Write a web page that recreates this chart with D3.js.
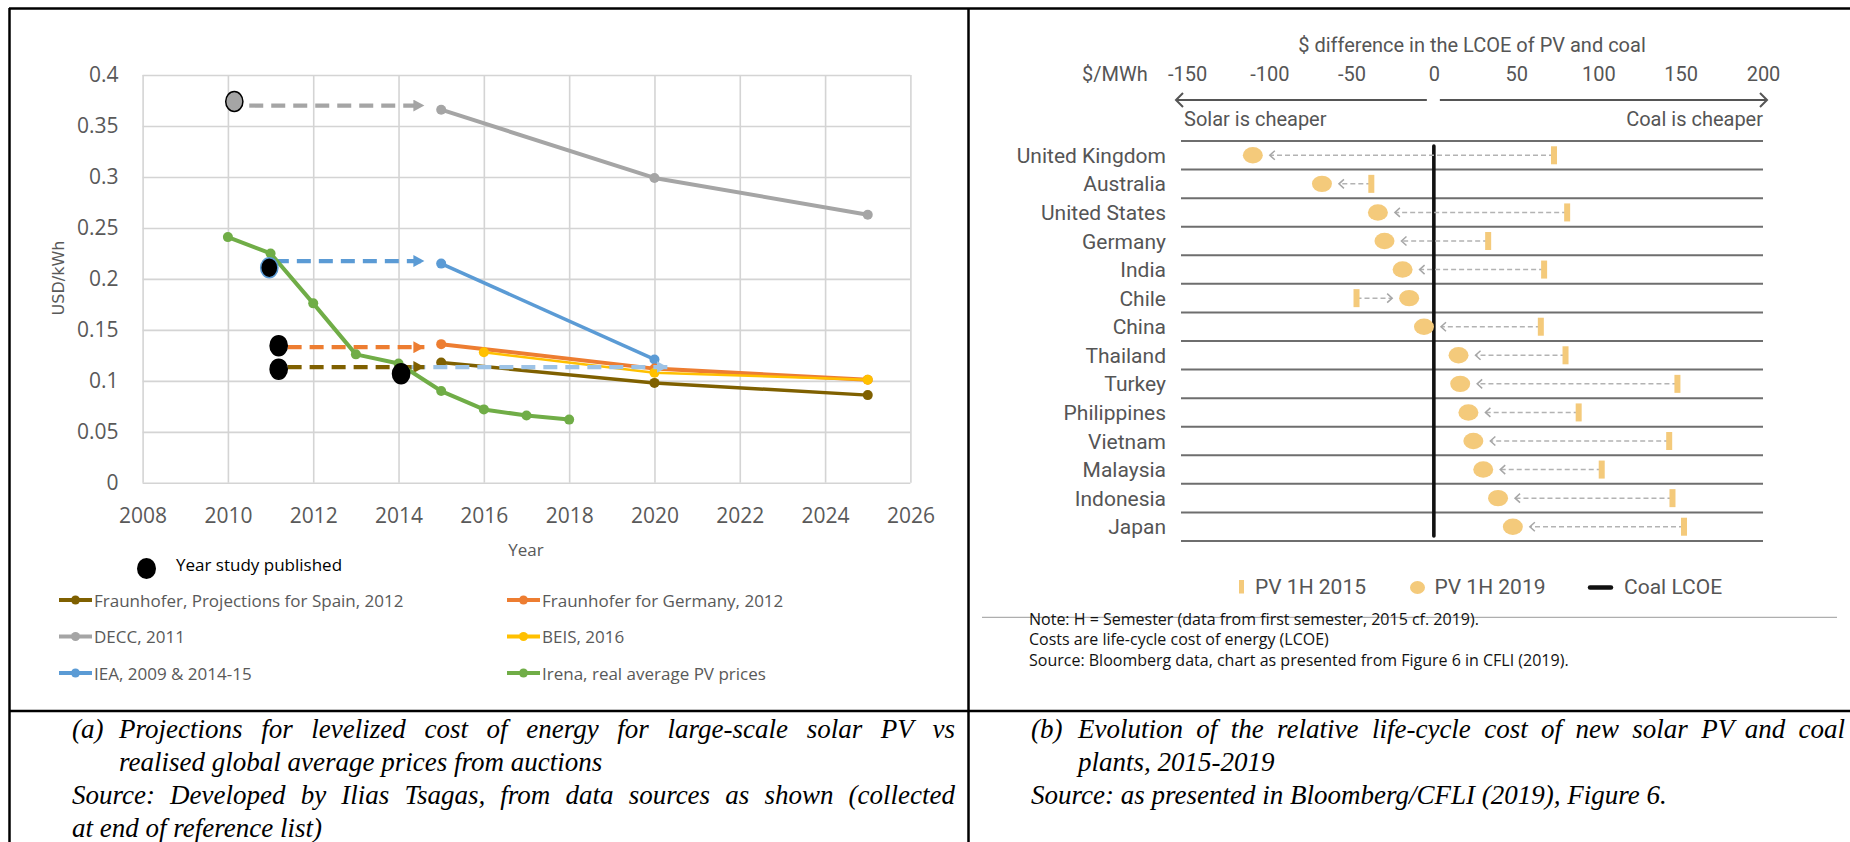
<!DOCTYPE html>
<html>
<head>
<meta charset="utf-8">
<script src="https://cdn.jsdelivr.net/npm/d3@7"></script>
<style>
  body { margin: 0; background: #fff; }
</style>
</head>
<body>
<svg id="fig" width="1850" height="842"></svg>
<script>
// ---------- panel (a): LCOE projections vs realised prices ----------
var irenaYears  = [2010, 2011, 2012, 2013, 2014, 2015, 2016, 2017, 2018];
var irenaPrices = [0.241, 0.225, 0.176, 0.126, 0.117, 0.090, 0.072, 0.066, 0.062];
var projYears   = [2015, 2020, 2025];
var deccValues      = [0.366, 0.299, 0.263];
var fhGermanyValues = [0.136, 0.112, 0.101];
var fhSpainValues   = [0.118, 0.098, 0.086];
var ieaYears  = [2015, 2020];
var ieaValues = [0.215, 0.121];
var beisYears  = [2016, 2020, 2025];
var beisValues = [0.128, 0.108, 0.101];
// year each study was published (black dots)
var studyYears  = [2010.15, 2010.97, 2011.19, 2011.19, 2014.06];
var studyValues = [0.374, 0.211, 0.1345, 0.1115, 0.107];
// dashed arrows from publication year to first projection year
var arrowFrom   = [2010.5, 2011.1, 2011.4, 2011.4, 2014.3];
var arrowTo     = [2014.7, 2014.7, 2014.7, 2014.7, 2020.4];
var arrowValues = [0.370, 0.2175, 0.133, 0.1135, 0.1135];
var xTicks = [2008, 2010, 2012, 2014, 2016, 2018, 2020, 2022, 2024, 2026];
var yTicks = [0, 0.05, 0.1, 0.15, 0.2, 0.25, 0.3, 0.35, 0.4];

// ---------- panel (b): $ difference in LCOE of PV and coal ----------
var countries = ["United Kingdom", "Australia", "United States", "Germany", "India", "Chile", "China",
                 "Thailand", "Turkey", "Philippines", "Vietnam", "Malaysia", "Indonesia", "Japan"];
var pv2015 = [73, -38, 81, 33, 67, -47, 65, 80, 148, 88, 143, 102, 145, 152];
var pv2019 = [-110, -68, -34, -30, -19, -15, -6, 15, 16, 21, 24, 30, 39, 48];
var diffTicks = [-150, -100, -50, 0, 50, 100, 150, 200];

var svg = d3.select("#fig");
var sans = "'Open Sans', 'DejaVu Sans', sans-serif";
var cond = "Roboto, 'Liberation Sans', sans-serif";
var serif = "'Liberation Serif', 'DejaVu Serif', serif";

// ================= panel (a) =================
var x = d3.scaleLinear().domain([2008, 2026]).range([142.6, 910.4]);
var y = d3.scaleLinear().domain([0, 0.4]).range([482.8, 75]);
var ga = svg.append("g");

var yAxis = ga.append("g")
    .attr("transform", "translate(" + x(2008) + ",0)")
    .call(d3.axisLeft(y).tickValues(yTicks).tickSize(-(x(2026) - x(2008))).tickPadding(24).tickFormat(String));
var xAxis = ga.append("g")
    .attr("transform", "translate(0," + y(0) + ")")
    .call(d3.axisBottom(x).tickValues(xTicks).tickSize(-(y(0) - y(0.4))).tickFormat(String));
[yAxis, xAxis].forEach(function(a) {
  a.select(".domain").remove();
  a.selectAll("line").attr("stroke", "#d4d4d4").attr("stroke-width", 1.6);
  a.selectAll("text").attr("font-family", sans).attr("font-size", 21).attr("fill", "#595959");
});
xAxis.selectAll("text").attr("y", 40).attr("dy", null);

ga.append("text").attr("x", 526).attr("y", 556).attr("text-anchor", "middle")
    .attr("font-family", sans).attr("font-size", 17).attr("fill", "#595959").text("Year");
ga.append("text").attr("transform", "translate(64,278) rotate(-90)").attr("text-anchor", "middle")
    .attr("font-family", "'DejaVu Sans', sans-serif").attr("font-size", 16).attr("fill", "#595959").text("USD/kWh");

var seriesA = [
  {name: "DECC, 2011", xs: projYears, ys: deccValues, color: "#a5a5a5", w: 4},
  {name: "IEA, 2009 & 2014-15", xs: ieaYears, ys: ieaValues, color: "#5b9bd5", w: 3.5},
  {name: "Fraunhofer for Germany, 2012", xs: projYears, ys: fhGermanyValues, color: "#ed7d31", w: 4},
  {name: "BEIS, 2016", xs: beisYears, ys: beisValues, color: "#ffc000", w: 2.5},
  {name: "Fraunhofer, Projections for Spain, 2012", xs: projYears, ys: fhSpainValues, color: "#7f6000", w: 3.5}
];
var green = {name: "Irena, real average PV prices", xs: irenaYears, ys: irenaPrices, color: "#70ad47", w: 4};

var line = d3.line().x(function(d) { return x(d[0]); }).y(function(d) { return y(d[1]); });
function drawSeries(s) {
  var pts = d3.zip(s.xs, s.ys);
  ga.append("path").datum(pts).attr("d", line).attr("fill", "none")
      .attr("stroke", s.color).attr("stroke-width", s.w).attr("stroke-linejoin", "round");
  ga.selectAll(null).data(pts).enter().append("circle")
      .attr("cx", function(d) { return x(d[0]); }).attr("cy", function(d) { return y(d[1]); })
      .attr("r", 5).attr("fill", s.color);
}
seriesA.forEach(drawSeries);

// dashed arrows
var arrowColors = ["#a5a5a5", "#5b9bd5", "#ed7d31", "#7f6000", "#9dc3e6"];
var defs = svg.append("defs");
arrowColors.forEach(function(c, i) {
  defs.append("marker").attr("id", "ah" + i).attr("markerUnits", "userSpaceOnUse")
      .attr("markerWidth", 12).attr("markerHeight", 12).attr("refX", 11).attr("refY", 6)
      .attr("orient", "auto")
    .append("path").attr("d", "M0,0L11,6L0,12Z").attr("fill", c);
});
// light blue one first so the brown arrow sits above it
[4, 0, 1, 2, 3].forEach(function(i) {
  ga.append("line")
      .attr("x1", x(arrowFrom[i])).attr("x2", x(arrowTo[i]) - 4)
      .attr("y1", y(arrowValues[i])).attr("y2", y(arrowValues[i]))
      .attr("stroke", arrowColors[i]).attr("stroke-width", 4.2)
      .attr("stroke-dasharray", "14,8").attr("marker-end", "url(#ah" + i + ")");
});

drawSeries(green);

// year study published
var dotFill = ["#a5a5a5", "#000", "#000", "#000", "#000"];
var dotStroke = ["#000", "#5b9bd5", "#000", "#000", "#000"];
ga.selectAll(".study").data(d3.range(studyYears.length)).enter().append("ellipse")
    .attr("cx", function(i) { return x(studyYears[i]); })
    .attr("cy", function(i) { return y(studyValues[i]); })
    .attr("rx", 8.6).attr("ry", 10)
    .attr("fill", function(i) { return dotFill[i]; })
    .attr("stroke", function(i) { return dotStroke[i]; }).attr("stroke-width", 1.5);

// legend (a)
ga.append("ellipse").attr("cx", 146.5).attr("cy", 568.5).attr("rx", 9.5).attr("ry", 10.5).attr("fill", "#000");
ga.append("text").attr("x", 176).attr("y", 571).attr("font-family", sans).attr("font-size", 17)
    .attr("fill", "#000").text("Year study published");

var legendA = [seriesA[4], seriesA[2], seriesA[0], seriesA[3], seriesA[1], green];
legendA.forEach(function(s, i) {
  var lx = i % 2 === 0 ? 59 : 507;
  var ly = 600 + Math.floor(i / 2) * 36.5;
  ga.append("line").attr("x1", lx).attr("x2", lx + 33).attr("y1", ly).attr("y2", ly)
      .attr("stroke", s.color).attr("stroke-width", 4);
  ga.append("circle").attr("cx", lx + 16.5).attr("cy", ly).attr("r", 4.5).attr("fill", s.color);
  ga.append("text").attr("x", lx + 35).attr("y", ly + 6.5).attr("font-family", sans)
      .attr("font-size", 17).attr("fill", "#595959").text(s.name);
});

// ================= panel (b) =================
var xb = d3.scaleLinear().domain([-150, 200]).range([1187, 1763]);
var yb = d3.scaleBand().domain(countries).range([141, 541]);
var gb = svg.append("g");
var gold = "#f4ca7b";

gb.append("text").attr("x", 1472).attr("y", 52).attr("text-anchor", "middle")
    .attr("font-family", cond).attr("font-size", 20).attr("fill", "#555")
    .text("$ difference in the LCOE of PV and coal");
gb.append("text").attr("x", 1082).attr("y", 81).attr("font-family", cond).attr("font-size", 20)
    .attr("fill", "#555").text("$/MWh");
var topAxis = gb.append("g").attr("transform", "translate(0,81)")
    .call(d3.axisTop(xb).tickValues(diffTicks).tickSize(0).tickPadding(0).tickFormat(String));
topAxis.select(".domain").remove();
topAxis.selectAll("text").attr("font-family", cond).attr("font-size", 20).attr("fill", "#555");

// "solar / coal is cheaper" arrows
var ay = 100;
gb.append("path").attr("d", "M" + (xb(-150) - 11) + "," + ay + "H" + (xb(0) - 7) +
    "M" + (xb(-150) - 4) + "," + (ay - 7) + "L" + (xb(-150) - 11) + "," + ay + "L" + (xb(-150) - 4) + "," + (ay + 7))
    .attr("fill", "none").attr("stroke", "#555").attr("stroke-width", 2);
gb.append("path").attr("d", "M" + (xb(0) + 6) + "," + ay + "H" + (xb(200) + 4) +
    "M" + (xb(200) - 3) + "," + (ay - 7) + "L" + (xb(200) + 4) + "," + ay + "L" + (xb(200) - 3) + "," + (ay + 7))
    .attr("fill", "none").attr("stroke", "#555").attr("stroke-width", 2);
gb.append("text").attr("x", xb(-150) - 3).attr("y", 126).attr("font-family", cond).attr("font-size", 20)
    .attr("fill", "#555").text("Solar is cheaper");
gb.append("text").attr("x", xb(200)).attr("y", 126).attr("text-anchor", "end").attr("font-family", cond)
    .attr("font-size", 20).attr("fill", "#555").text("Coal is cheaper");

// row separators
var rowEdges = countries.map(function(c) { return yb(c); }).concat([yb.range()[1]]);
gb.selectAll(".sep").data(rowEdges).enter().append("line")
    .attr("x1", 1181).attr("x2", xb(200)).attr("y1", function(d) { return d; }).attr("y2", function(d) { return d; })
    .attr("stroke", "#6e6e6e").attr("stroke-width", 2);

gb.selectAll(".country").data(countries).enter().append("text")
    .attr("x", 1166).attr("y", function(c) { return yb(c) + yb.bandwidth() / 2 + 7.5; })
    .attr("text-anchor", "end").attr("font-family", cond).attr("font-size", 21).attr("fill", "#555")
    .text(function(c) { return c; });

// coal LCOE reference line
gb.append("line").attr("x1", xb(0)).attr("x2", xb(0)).attr("y1", 146).attr("y2", 536)
    .attr("stroke", "#111").attr("stroke-width", 3.6).attr("stroke-linecap", "round");

countries.forEach(function(c, i) {
  var cy = yb(c) + yb.bandwidth() / 2;
  var bx = xb(pv2015[i]), dx = xb(pv2019[i]);
  var dir = dx > bx ? 1 : -1;
  var tip = dx - dir * 17;
  gb.append("line").attr("x1", bx).attr("x2", tip).attr("y1", cy).attr("y2", cy)
      .attr("stroke", "#b3b3b3").attr("stroke-width", 1.5).attr("stroke-dasharray", "5,3");
  gb.append("path").attr("d", "M" + (tip - dir * 5) + "," + (cy - 4.5) + "L" + tip + "," + cy + "L" + (tip - dir * 5) + "," + (cy + 4.5))
      .attr("fill", "none").attr("stroke", "#a6a6a6").attr("stroke-width", 1.5);
  gb.append("rect").attr("x", bx - 3).attr("y", cy - 9).attr("width", 6).attr("height", 18).attr("fill", gold);
  gb.append("ellipse").attr("cx", dx).attr("cy", cy).attr("rx", 10).attr("ry", 8.2).attr("fill", gold);
});

// legend (b)
gb.append("rect").attr("x", 1239).attr("y", 580).attr("width", 5).attr("height", 13.5).attr("fill", gold);
gb.append("text").attr("x", 1255).attr("y", 594).attr("font-family", cond).attr("font-size", 21).attr("fill", "#555").text("PV 1H 2015");
gb.append("ellipse").attr("cx", 1417.5).attr("cy", 587.5).attr("rx", 7.5).attr("ry", 6.5).attr("fill", gold);
gb.append("text").attr("x", 1434.5).attr("y", 594).attr("font-family", cond).attr("font-size", 21).attr("fill", "#555").text("PV 1H 2019");
gb.append("line").attr("x1", 1590).attr("x2", 1611).attr("y1", 587.5).attr("y2", 587.5)
    .attr("stroke", "#111").attr("stroke-width", 4.5).attr("stroke-linecap", "round");
gb.append("text").attr("x", 1624).attr("y", 594).attr("font-family", cond).attr("font-size", 21).attr("fill", "#555").text("Coal LCOE");

// notes
gb.append("line").attr("x1", 982).attr("x2", 1837).attr("y1", 617.3).attr("y2", 617.3)
    .attr("stroke", "#9a9a9a").attr("stroke-width", 1);
["Note: H = Semester (data from first semester, 2015 cf. 2019).",
 "Costs are life-cycle cost of energy (LCOE)",
 "Source: Bloomberg data, chart as presented from Figure 6 in CFLI (2019)."].forEach(function(t, i) {
  gb.append("text").attr("x", 1029).attr("y", 625 + i * 20.4).attr("font-family", sans)
      .attr("font-size", 16).attr("fill", "#111").text(t);
});

// ================= frame and captions =================
var frame = svg.append("g").attr("stroke", "#000").attr("stroke-width", 2.5);
frame.append("line").attr("x1", 9).attr("x2", 1850).attr("y1", 8.5).attr("y2", 8.5);
frame.append("line").attr("x1", 9.5).attr("x2", 9.5).attr("y1", 8).attr("y2", 842);
frame.append("line").attr("x1", 968.5).attr("x2", 968.5).attr("y1", 8).attr("y2", 842);
frame.append("line").attr("x1", 9).attr("x2", 1850).attr("y1", 711).attr("y2", 711);

var cap = svg.append("g").attr("font-family", serif).attr("font-style", "italic")
    .attr("font-size", 27).attr("fill", "#000");

// place words of one line; spread them to x1 when justify is set
function capLine(text, x0, x1, yBase, justify) {
  var t = cap.append("text").attr("y", yBase);
  if (!justify) { t.attr("x", x0).text(text); return; }
  var words = text.split(" ");
  var spans = words.map(function(w) { return t.append("tspan").text(w); });
  var widths = spans.map(function(s) { return s.node().getComputedTextLength(); });
  var gap = (x1 - x0 - d3.sum(widths)) / (words.length - 1);
  var cx = x0;
  spans.forEach(function(s, i) { s.attr("x", cx); cx += widths[i] + gap; });
}

capLine("(a)", 72, 0, 738, false);
capLine("Projections for levelized cost of energy for large-scale solar PV vs", 119, 955, 738, true);
capLine("realised global average prices from auctions", 119, 0, 771, false);
capLine("Source: Developed by Ilias Tsagas, from data sources as shown (collected", 72, 955, 804, true);
capLine("at end of reference list)", 72, 0, 837, false);

capLine("(b)", 1031, 0, 738, false);
capLine("Evolution of the relative life-cycle cost of new solar PV and coal", 1078, 1845, 738, true);
capLine("plants, 2015-2019", 1078, 0, 771, false);
capLine("Source: as presented in Bloomberg/CFLI (2019), Figure 6.", 1031, 0, 804, false);
</script>
</body>
</html>
